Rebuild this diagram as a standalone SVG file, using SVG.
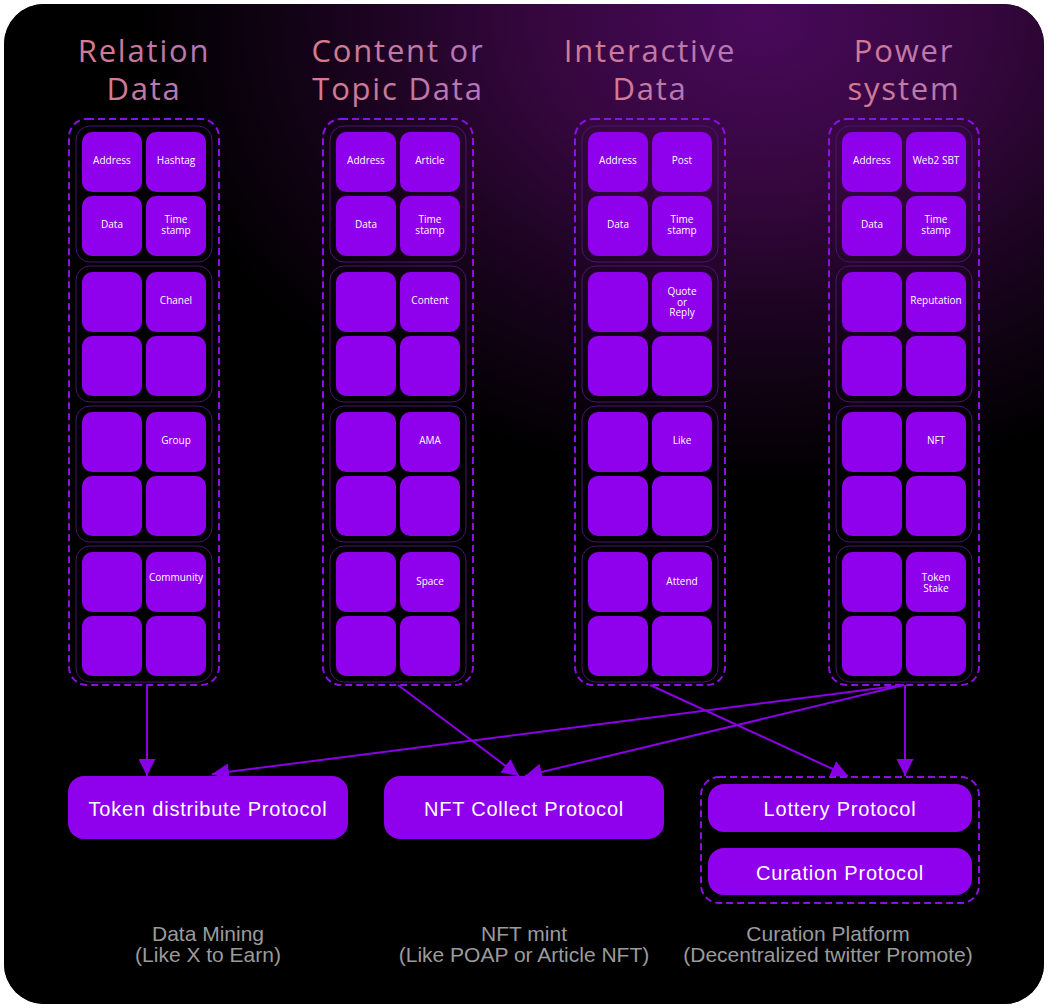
<svg xmlns="http://www.w3.org/2000/svg" width="1048" height="1008" viewBox="0 0 1048 1008">
<style>
.cell{fill:#8f00ec}
.grp{fill:none;stroke:#4a1470;stroke-width:1}
.dash{fill:none;stroke:#8a10e4;stroke-width:2;stroke-dasharray:7 4}
.lbl{font-family:"Open Sans","DejaVu Sans",sans-serif;font-size:10px;fill:#ffffff;text-anchor:middle}
.title{font-family:"Open Sans","DejaVu Sans",sans-serif;font-size:31px;letter-spacing:1.8px;fill:url(#tg);text-anchor:middle}
.proto{fill:#8f00ec}
.ptxt{font-family:"Liberation Sans",Arial,sans-serif;font-size:20px;letter-spacing:0.8px;fill:#ffffff;text-anchor:middle}
.note{font-family:"Liberation Sans",Arial,sans-serif;font-size:21px;fill:#9b9b9b;text-anchor:middle}
.conn{fill:none;stroke:#8a00e6;stroke-width:2}
</style>
<defs>
<radialGradient id="bg" cx="760" cy="20" r="620" gradientUnits="userSpaceOnUse" gradientTransform="translate(760 20) scale(1 0.75) translate(-760 -20)">
<stop offset="0" stop-color="#48095a"/>
<stop offset="0.35" stop-color="#36073f"/>
<stop offset="0.7" stop-color="#16031a"/>
<stop offset="1" stop-color="#000000"/>
</radialGradient>
<linearGradient id="tg" x1="0" y1="0" x2="1" y2="0">
<stop offset="0" stop-color="#d87a8c"/>
<stop offset="1" stop-color="#b177bb"/>
</linearGradient>
<marker id="ah" markerUnits="userSpaceOnUse" markerWidth="17" markerHeight="17" viewBox="0 0 17 17" refX="17" refY="8.5" orient="auto">
<path d="M0,0 L17,8.5 L0,17 z" fill="#8a00e6"/>
</marker>
</defs>
<rect x="0" y="0" width="1048" height="1008" fill="#ffffff"/>
<rect x="4" y="4" width="1040" height="1000" rx="40" fill="#000000"/>
<rect x="4" y="4" width="1040" height="1000" rx="40" fill="url(#bg)"/>

<g id="titles">
<text class="title" x="144" y="62">Relation</text>
<text class="title" x="144" y="100">Data</text>
<text class="title" x="398" y="62">Content or</text>
<text class="title" x="398" y="100">Topic Data</text>
<text class="title" x="650" y="62">Interactive</text>
<text class="title" x="650" y="100">Data</text>
<text class="title" x="904" y="62">Power</text>
<text class="title" x="904" y="100">system</text>
</g>

<g id="col-relation">
<rect class="dash" x="69" y="119" width="150" height="566" rx="18"/>
<rect class="grp" x="76" y="126" width="136" height="136" rx="14"/>
<rect class="grp" x="76" y="266" width="136" height="136" rx="14"/>
<rect class="grp" x="76" y="406" width="136" height="136" rx="14"/>
<rect class="grp" x="76" y="546" width="136" height="136" rx="14"/>
<rect class="cell" x="82" y="132" width="60" height="60" rx="10"/><rect class="cell" x="146" y="132" width="60" height="60" rx="10"/>
<rect class="cell" x="82" y="196" width="60" height="60" rx="10"/><rect class="cell" x="146" y="196" width="60" height="60" rx="10"/>
<rect class="cell" x="82" y="272" width="60" height="60" rx="10"/><rect class="cell" x="146" y="272" width="60" height="60" rx="10"/>
<rect class="cell" x="82" y="336" width="60" height="60" rx="10"/><rect class="cell" x="146" y="336" width="60" height="60" rx="10"/>
<rect class="cell" x="82" y="412" width="60" height="60" rx="10"/><rect class="cell" x="146" y="412" width="60" height="60" rx="10"/>
<rect class="cell" x="82" y="476" width="60" height="60" rx="10"/><rect class="cell" x="146" y="476" width="60" height="60" rx="10"/>
<rect class="cell" x="82" y="552" width="60" height="60" rx="10"/><rect class="cell" x="146" y="552" width="60" height="60" rx="10"/>
<rect class="cell" x="82" y="616" width="60" height="60" rx="10"/><rect class="cell" x="146" y="616" width="60" height="60" rx="10"/>
<text class="lbl" x="112" y="164">Address</text>
<text class="lbl" x="176" y="164">Hashtag</text>
<text class="lbl" x="112" y="228">Data</text>
<text class="lbl" x="176" y="222.5">Time</text>
<text class="lbl" x="176" y="233.5">stamp</text>
<text class="lbl" x="176" y="303.5">Chanel</text>
<text class="lbl" x="176" y="443.5">Group</text>
<text class="lbl" x="176" y="580.5">Community</text>
</g>

<g id="col-content" transform="translate(254 0)">
<rect class="dash" x="69" y="119" width="150" height="566" rx="18"/>
<rect class="grp" x="76" y="126" width="136" height="136" rx="14"/>
<rect class="grp" x="76" y="266" width="136" height="136" rx="14"/>
<rect class="grp" x="76" y="406" width="136" height="136" rx="14"/>
<rect class="grp" x="76" y="546" width="136" height="136" rx="14"/>
<rect class="cell" x="82" y="132" width="60" height="60" rx="10"/><rect class="cell" x="146" y="132" width="60" height="60" rx="10"/>
<rect class="cell" x="82" y="196" width="60" height="60" rx="10"/><rect class="cell" x="146" y="196" width="60" height="60" rx="10"/>
<rect class="cell" x="82" y="272" width="60" height="60" rx="10"/><rect class="cell" x="146" y="272" width="60" height="60" rx="10"/>
<rect class="cell" x="82" y="336" width="60" height="60" rx="10"/><rect class="cell" x="146" y="336" width="60" height="60" rx="10"/>
<rect class="cell" x="82" y="412" width="60" height="60" rx="10"/><rect class="cell" x="146" y="412" width="60" height="60" rx="10"/>
<rect class="cell" x="82" y="476" width="60" height="60" rx="10"/><rect class="cell" x="146" y="476" width="60" height="60" rx="10"/>
<rect class="cell" x="82" y="552" width="60" height="60" rx="10"/><rect class="cell" x="146" y="552" width="60" height="60" rx="10"/>
<rect class="cell" x="82" y="616" width="60" height="60" rx="10"/><rect class="cell" x="146" y="616" width="60" height="60" rx="10"/>
<text class="lbl" x="112" y="164">Address</text>
<text class="lbl" x="176" y="164">Article</text>
<text class="lbl" x="112" y="228">Data</text>
<text class="lbl" x="176" y="222.5">Time</text>
<text class="lbl" x="176" y="233.5">stamp</text>
<text class="lbl" x="176" y="303.5">Content</text>
<text class="lbl" x="176" y="443.5">AMA</text>
<text class="lbl" x="176" y="584.5">Space</text>
</g>

<g id="col-interactive" transform="translate(506 0)">
<rect class="dash" x="69" y="119" width="150" height="566" rx="18"/>
<rect class="grp" x="76" y="126" width="136" height="136" rx="14"/>
<rect class="grp" x="76" y="266" width="136" height="136" rx="14"/>
<rect class="grp" x="76" y="406" width="136" height="136" rx="14"/>
<rect class="grp" x="76" y="546" width="136" height="136" rx="14"/>
<rect class="cell" x="82" y="132" width="60" height="60" rx="10"/><rect class="cell" x="146" y="132" width="60" height="60" rx="10"/>
<rect class="cell" x="82" y="196" width="60" height="60" rx="10"/><rect class="cell" x="146" y="196" width="60" height="60" rx="10"/>
<rect class="cell" x="82" y="272" width="60" height="60" rx="10"/><rect class="cell" x="146" y="272" width="60" height="60" rx="10"/>
<rect class="cell" x="82" y="336" width="60" height="60" rx="10"/><rect class="cell" x="146" y="336" width="60" height="60" rx="10"/>
<rect class="cell" x="82" y="412" width="60" height="60" rx="10"/><rect class="cell" x="146" y="412" width="60" height="60" rx="10"/>
<rect class="cell" x="82" y="476" width="60" height="60" rx="10"/><rect class="cell" x="146" y="476" width="60" height="60" rx="10"/>
<rect class="cell" x="82" y="552" width="60" height="60" rx="10"/><rect class="cell" x="146" y="552" width="60" height="60" rx="10"/>
<rect class="cell" x="82" y="616" width="60" height="60" rx="10"/><rect class="cell" x="146" y="616" width="60" height="60" rx="10"/>
<text class="lbl" x="112" y="164">Address</text>
<text class="lbl" x="176" y="164">Post</text>
<text class="lbl" x="112" y="228">Data</text>
<text class="lbl" x="176" y="222.5">Time</text>
<text class="lbl" x="176" y="233.5">stamp</text>
<text class="lbl" x="176" y="295">Quote</text>
<text class="lbl" x="176" y="305.5">or</text>
<text class="lbl" x="176" y="316">Reply</text>
<text class="lbl" x="176" y="443.5">Like</text>
<text class="lbl" x="176" y="584.5">Attend</text>
</g>

<g id="col-power" transform="translate(760 0)">
<rect class="dash" x="69" y="119" width="150" height="566" rx="18"/>
<rect class="grp" x="76" y="126" width="136" height="136" rx="14"/>
<rect class="grp" x="76" y="266" width="136" height="136" rx="14"/>
<rect class="grp" x="76" y="406" width="136" height="136" rx="14"/>
<rect class="grp" x="76" y="546" width="136" height="136" rx="14"/>
<rect class="cell" x="82" y="132" width="60" height="60" rx="10"/><rect class="cell" x="146" y="132" width="60" height="60" rx="10"/>
<rect class="cell" x="82" y="196" width="60" height="60" rx="10"/><rect class="cell" x="146" y="196" width="60" height="60" rx="10"/>
<rect class="cell" x="82" y="272" width="60" height="60" rx="10"/><rect class="cell" x="146" y="272" width="60" height="60" rx="10"/>
<rect class="cell" x="82" y="336" width="60" height="60" rx="10"/><rect class="cell" x="146" y="336" width="60" height="60" rx="10"/>
<rect class="cell" x="82" y="412" width="60" height="60" rx="10"/><rect class="cell" x="146" y="412" width="60" height="60" rx="10"/>
<rect class="cell" x="82" y="476" width="60" height="60" rx="10"/><rect class="cell" x="146" y="476" width="60" height="60" rx="10"/>
<rect class="cell" x="82" y="552" width="60" height="60" rx="10"/><rect class="cell" x="146" y="552" width="60" height="60" rx="10"/>
<rect class="cell" x="82" y="616" width="60" height="60" rx="10"/><rect class="cell" x="146" y="616" width="60" height="60" rx="10"/>
<text class="lbl" x="112" y="164">Address</text>
<text class="lbl" x="176" y="164">Web2 SBT</text>
<text class="lbl" x="112" y="228">Data</text>
<text class="lbl" x="176" y="222.5">Time</text>
<text class="lbl" x="176" y="233.5">stamp</text>
<text class="lbl" x="176" y="303.5">Reputation</text>
<text class="lbl" x="176" y="443.5">NFT</text>
<text class="lbl" x="176" y="581">Token</text>
<text class="lbl" x="176" y="592">Stake</text>
</g>

<g id="connectors">
<path class="conn" d="M147,685 L147,776" marker-end="url(#ah)"/>
<path class="conn" d="M398,685 L519,776" marker-end="url(#ah)"/>
<path class="conn" d="M904,685 L212,774" marker-end="url(#ah)"/>
<path class="conn" d="M904,685 L525,776" marker-end="url(#ah)"/>
<path class="conn" d="M650,685 L848,776" marker-end="url(#ah)"/>
<path class="conn" d="M905,685 L905,776" marker-end="url(#ah)"/>
</g>

<g id="token-distribute">
<rect class="proto" x="68" y="776" width="280" height="63" rx="16"/>
<text class="ptxt" x="208" y="816">Token distribute Protocol</text>
</g>
<g id="nft-collect">
<rect class="proto" x="384" y="776" width="280" height="63" rx="16"/>
<text class="ptxt" x="524" y="816">NFT Collect Protocol</text>
</g>
<g id="curation-group">
<rect class="dash" x="701" y="777" width="278" height="126" rx="18"/>
<g id="lottery">
<rect class="proto" x="708" y="784" width="264" height="48" rx="16"/>
<text class="ptxt" x="840" y="816">Lottery Protocol</text>
</g>
<g id="curation">
<rect class="proto" x="708" y="848" width="264" height="47" rx="16"/>
<text class="ptxt" x="840" y="880">Curation Protocol</text>
</g>
</g>

<g id="notes">
<text class="note" x="208" y="941">Data Mining</text>
<text class="note" x="208" y="962">(Like X to Earn)</text>
<text class="note" x="524" y="941">NFT mint</text>
<text class="note" x="524" y="962">(Like POAP or Article NFT)</text>
<text class="note" x="828" y="941">Curation Platform</text>
<text class="note" x="828" y="962">(Decentralized twitter Promote)</text>
</g>
</svg>
